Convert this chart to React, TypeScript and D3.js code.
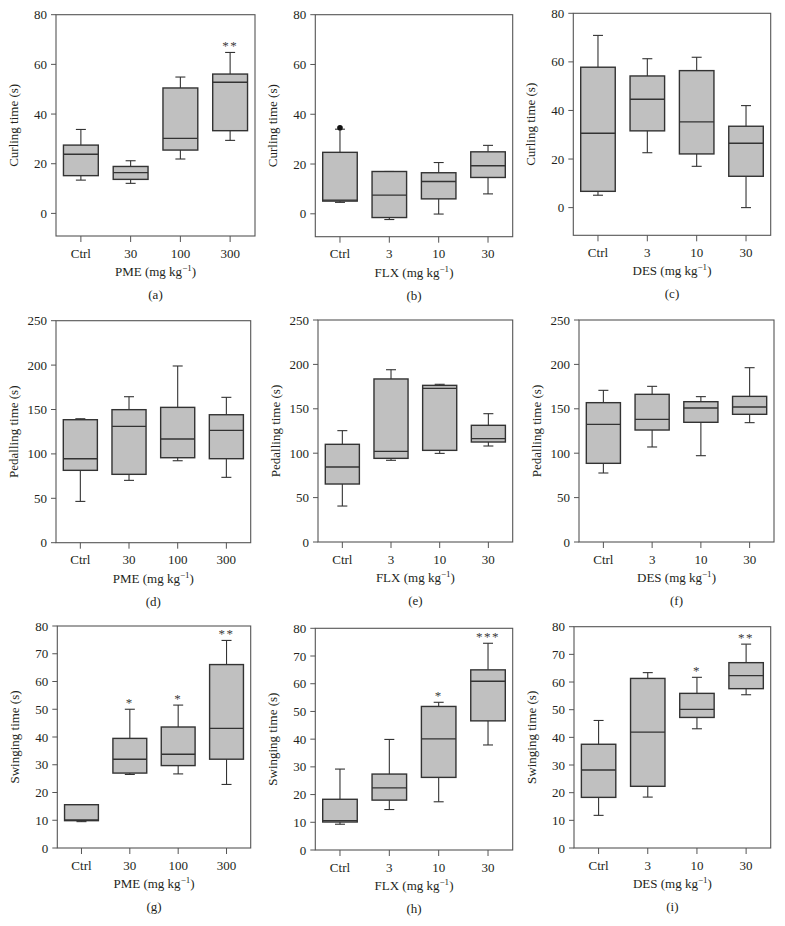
import React from "react";
import * as d3 from "d3";

// ---------- DATA ----------
const pmeCats = ["Ctrl", "30", "100", "300"];
const flxCats = ["Ctrl", "3", "10", "30"];
const desCats = ["Ctrl", "3", "10", "30"];

// each box: [lowWhisker, q1, median, q3, highWhisker]
const curlPME = [
  [13.4, 15.2, 23.8, 27.5, 33.8],
  [12.1, 13.7, 16.4, 18.9, 21.2],
  [21.9, 25.5, 30.2, 50.5, 54.9],
  [29.4, 33.3, 52.8, 56.1, 64.8],
];
const curlFLX = [
  [4.6, 5.1, 5.5, 24.7, 34.0],
  [-2.3, -1.5, 7.5, 17.0, 17.0],
  [-0.1, 6.0, 13.0, 16.5, 20.6],
  [8.0, 14.6, 19.3, 24.9, 27.5],
];
const curlFLXOutliers = [[34.6], [], [], []];
const curlDES = [
  [5.1, 6.7, 30.6, 57.8, 70.9],
  [22.6, 31.6, 44.6, 54.2, 61.3],
  [17.0, 22.1, 35.3, 56.4, 61.9],
  [0.0, 12.9, 26.5, 33.5, 42.0],
];
const pedPME = [
  [46.5, 81.5, 94.6, 138.5, 139.6],
  [70.2, 77.0, 131.0, 149.8, 164.4],
  [92.3, 95.7, 116.7, 152.4, 199.0],
  [73.6, 94.6, 126.5, 144.1, 163.7],
];
const pedFLX = [
  [40.5, 65.3, 84.5, 110.0, 125.4],
  [92.0, 94.2, 102.1, 183.6, 194.0],
  [99.8, 103.2, 173.0, 176.4, 177.6],
  [108.1, 112.6, 116.4, 131.4, 144.5],
];
const pedDES = [
  [77.7, 88.6, 132.5, 156.9, 170.8],
  [107.0, 126.1, 138.1, 166.3, 175.3],
  [97.2, 134.8, 150.9, 158.0, 163.7],
  [134.4, 143.8, 152.0, 164.0, 196.3],
];
const swingPME = [
  [9.5, 9.85, 10.1, 15.6, 15.6],
  [26.5, 27.0, 32.0, 39.5, 50.0],
  [26.7, 29.7, 33.8, 43.6, 51.5],
  [22.9, 32.0, 43.1, 66.1, 74.8],
];
const swingFLX = [
  [9.3, 10.1, 10.6, 18.3, 29.2],
  [14.6, 18.0, 22.4, 27.4, 39.9],
  [17.4, 26.2, 40.1, 51.8, 53.3],
  [37.9, 46.6, 60.9, 65.0, 74.6],
];
const swingDES = [
  [11.8, 18.3, 28.2, 37.5, 46.1],
  [18.4, 22.3, 41.9, 61.3, 63.4],
  [43.1, 47.2, 50.1, 55.9, 61.7],
  [55.4, 57.6, 62.3, 67.0, 73.7],
];

const starsA = ["", "", "", "**"];
const starsG = ["", "*", "*", "**"];
const starsH = ["", "", "*", "***"];
const starsI = ["", "", "*", "**"];
const noStars = ["", "", "", ""];

const curlTicks = [0, 20, 40, 60, 80];
const pedTicks = [0, 50, 100, 150, 200, 250];
const swingTicks = [0, 10, 20, 30, 40, 50, 60, 70, 80];

const curlTitle = "Curling time (s)";
const pedTitle = "Pedalling time (s)";
const swingTitle = "Swinging time (s)";

// ---------- LAYOUT ----------
type Panel = {
  label: string;
  drug: string;
  cats: string[];
  boxes: number[][];
  outliers?: number[][];
  stars: string[];
  ticks: number[];
  domain: [number, number];
  yTitle: string;
  frame: [number, number, number, number]; // left, top, right, bottom
};

const panels: Panel[] = [
  { label: "(a)", drug: "PME", cats: pmeCats, boxes: curlPME, stars: starsA, ticks: curlTicks, domain: [-9.1, 80], yTitle: curlTitle, frame: [56, 14.7, 255, 236] },
  { label: "(b)", drug: "FLX", cats: flxCats, boxes: curlFLX, outliers: curlFLXOutliers, stars: noStars, ticks: curlTicks, domain: [-9.2, 80], yTitle: curlTitle, frame: [315.3, 14.7, 512.7, 236.7] },
  { label: "(c)", drug: "DES", cats: desCats, boxes: curlDES, stars: noStars, ticks: curlTicks, domain: [-11.4, 80], yTitle: curlTitle, frame: [573.3, 13.3, 770.7, 235.3] },
  { label: "(d)", drug: "PME", cats: pmeCats, boxes: pedPME, stars: noStars, ticks: pedTicks, domain: [0, 250], yTitle: pedTitle, frame: [56, 320.7, 250.7, 542.7] },
  { label: "(e)", drug: "FLX", cats: flxCats, boxes: pedFLX, stars: noStars, ticks: pedTicks, domain: [0, 250], yTitle: pedTitle, frame: [318, 320, 512.7, 542] },
  { label: "(f)", drug: "DES", cats: desCats, boxes: pedDES, stars: noStars, ticks: pedTicks, domain: [0, 250], yTitle: pedTitle, frame: [579, 320, 774, 542] },
  { label: "(g)", drug: "PME", cats: pmeCats, boxes: swingPME, stars: starsG, ticks: swingTicks, domain: [0, 80], yTitle: swingTitle, frame: [57.3, 626, 250.7, 848] },
  { label: "(h)", drug: "FLX", cats: flxCats, boxes: swingFLX, stars: starsH, ticks: swingTicks, domain: [0, 80], yTitle: swingTitle, frame: [315.3, 628.3, 512.7, 850] },
  { label: "(i)", drug: "DES", cats: desCats, boxes: swingDES, stars: starsI, ticks: swingTicks, domain: [0, 80], yTitle: swingTitle, frame: [574, 626.7, 770.7, 848] },
];

const FONT = "'Liberation Serif', 'DejaVu Serif', serif";
const FS = 13;
const TEXT = "#231f20";
const BOX_FILL = "#c0c0c0";
const STROKE = "#333333";
const FRAME = "#555555";

function PanelView({ p }: { p: Panel }) {
  const [L, T, R, B] = p.frame;
  const x = d3.scaleBand<string>().domain(p.cats).range([L, R]).padding(0);
  const y = d3.scaleLinear().domain(p.domain).range([B, T]);
  const bw = x.bandwidth() * 0.7;
  const cap = 10;
  const cx = (c: string) => (x(c) as number) + x.bandwidth() / 2;

  return (
    <g>
      {/* frame */}
      <rect x={L} y={T} width={R - L} height={B - T} fill="none" stroke={FRAME} strokeWidth={1.1} />
      {/* y ticks */}
      {p.ticks.map((t) => (
        <g key={"yt" + t}>
          <line x1={L - 5} x2={L} y1={y(t)} y2={y(t)} stroke={FRAME} strokeWidth={1} />
          <text x={L - 9} y={y(t)} dy="0.35em" textAnchor="end" fontSize={FS} fill={TEXT} fontFamily={FONT}>
            {t}
          </text>
        </g>
      ))}
      {/* x ticks */}
      {p.cats.map((c) => (
        <g key={"xt" + c}>
          <line x1={cx(c)} x2={cx(c)} y1={B} y2={B + 6} stroke={FRAME} strokeWidth={1} />
          <text x={cx(c)} y={B + 21.5} textAnchor="middle" fontSize={FS} fill={TEXT} fontFamily={FONT}>
            {c}
          </text>
        </g>
      ))}
      {/* boxes */}
      {p.cats.map((c, i) => {
        const [lo, q1, med, q3, hi] = p.boxes[i];
        const xc = cx(c);
        return (
          <g key={"bx" + c}>
            <line x1={xc} x2={xc} y1={y(q3)} y2={y(hi)} stroke={STROKE} strokeWidth={1.1} />
            <line x1={xc} x2={xc} y1={y(q1)} y2={y(lo)} stroke={STROKE} strokeWidth={1.1} />
            <line x1={xc - cap / 2} x2={xc + cap / 2} y1={y(hi)} y2={y(hi)} stroke={STROKE} strokeWidth={1.1} />
            <line x1={xc - cap / 2} x2={xc + cap / 2} y1={y(lo)} y2={y(lo)} stroke={STROKE} strokeWidth={1.1} />
            <rect x={xc - bw / 2} y={y(q3)} width={bw} height={y(q1) - y(q3)} fill={BOX_FILL} stroke={STROKE} strokeWidth={1.4} />
            <line x1={xc - bw / 2} x2={xc + bw / 2} y1={y(med)} y2={y(med)} stroke={STROKE} strokeWidth={1.4} />
            {p.outliers &&
              p.outliers[i].map((o, k) => <circle key={k} cx={xc} cy={y(o)} r={2.8} fill="#111" />)}
            {p.stars[i] && (
              <text x={xc} y={y(hi) - 2} textAnchor="middle" fontSize={FS} fill="#3a3a3a" fontFamily={FONT} letterSpacing={1.5}>
                {p.stars[i]}
              </text>
            )}
          </g>
        );
      })}
      {/* y title */}
      <text
        transform={`translate(${L - 38},${(T + B) / 2}) rotate(-90)`}
        textAnchor="middle"
        fontSize={FS}
        fill={TEXT}
        fontFamily={FONT}
      >
        {p.yTitle}
      </text>
      {/* x title */}
      <text x={(L + R) / 2} y={B + 40} textAnchor="middle" fontSize={FS} fill={TEXT} fontFamily={FONT}>
        {p.drug} (mg kg
        <tspan fontSize={9} dy={-5}>
          −1
        </tspan>
        <tspan dy={5}>)</tspan>
      </text>
      {/* panel label */}
      <text x={(L + R) / 2} y={B + 63} textAnchor="middle" fontSize={FS} fill={TEXT} fontFamily={FONT}>
        {p.label}
      </text>
    </g>
  );
}

export default function App() {
  return (
    <svg
      width={785}
      height={926}
      style={{ position: "absolute", left: 0, top: 0, background: "#fff" }}
    >
      <rect x={0} y={0} width={785} height={926} fill="#fff" />
      {panels.map((p) => (
        <PanelView key={p.label} p={p} />
      ))}
    </svg>
  );
}
